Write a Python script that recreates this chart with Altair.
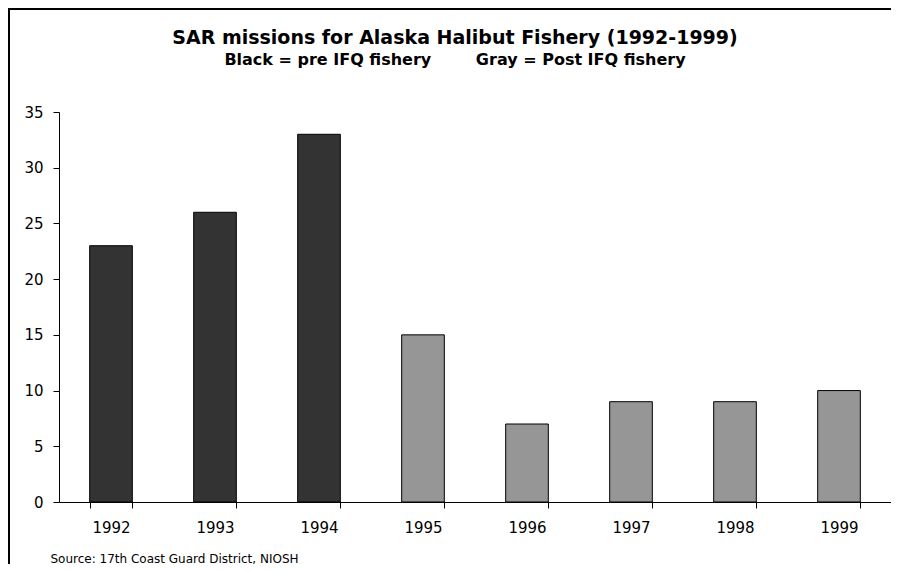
import altair as alt
import pandas as pd

years = ["1992", "1993", "1994", "1995", "1996", "1997", "1998", "1999"]
missions = [23, 26, 33, 15, 7, 9, 9, 10]
period = ["pre IFQ", "pre IFQ", "pre IFQ", "post IFQ", "post IFQ", "post IFQ", "post IFQ", "post IFQ"]
period_names = ["pre IFQ", "post IFQ"]
period_colors = ["#333333", "#969696"]
y_ticks = [0, 5, 10, 15, 20, 25, 30, 35]

title_text = "SAR missions for Alaska Halibut Fishery (1992-1999)"
subtitle_text = "Black = pre IFQ fishery" + "\u00a0" * 8 + "Gray = Post IFQ fishery"
source_text = "Source: 17th Coast Guard District, NIOSH"

df = pd.DataFrame({"year": years, "missions": missions, "period": period})

FONT = "DejaVu Sans"

bars = alt.Chart(df).mark_bar(stroke="black", strokeWidth=1).encode(
    x=alt.X(
        "year:N",
        sort=years,
        scale=alt.Scale(paddingInner=0.59, paddingOuter=0.295),
        axis=alt.Axis(
            title=source_text,
            titleFont=FONT,
            titleFontSize=12,
            titleFontWeight="normal",
            titleColor="black",
            titleAnchor="start",
            titleAlign="left",
            titleBaseline="alphabetic",
            titleX=-9,
            titleY=60,
            labelAngle=0,
            labelFont=FONT,
            labelFontSize=15,
            labelColor="black",
            labelPadding=12,
            tickBand="extent",
            tickSize=6,
            tickColor="black",
            domainColor="black",
            grid=False,
        ),
    ),
    y=alt.Y(
        "missions:Q",
        scale=alt.Scale(domain=[0, 35], nice=False),
        axis=alt.Axis(
            title=None,
            values=y_ticks,
            labelFont=FONT,
            labelFontSize=15,
            labelColor="black",
            labelPadding=10,
            tickSize=6,
            tickColor="black",
            domainColor="black",
            grid=False,
        ),
    ),
    color=alt.Color(
        "period:N",
        scale=alt.Scale(domain=period_names, range=period_colors),
        legend=None,
    ),
)

frame_data = alt.Data(values=[{}])
left_frame = alt.Chart(frame_data).mark_rule(color="black", strokeWidth=2).encode(
    x=alt.value(-50), y=alt.value(-103), y2=alt.value(460)
)
top_frame = alt.Chart(frame_data).mark_rule(color="black", strokeWidth=2).encode(
    y=alt.value(-103), x=alt.value(-51), x2=alt.value(840)
)
top_mask = alt.Chart(frame_data).mark_rule(color="white", strokeWidth=2).encode(
    y=alt.value(0), x=alt.value(1), x2=alt.value(832)
)

chart = (
    alt.layer(bars, left_frame, top_frame, top_mask)
    .properties(
        width=832,
        height=390,
        autosize=alt.AutoSizeParams(type="none"),
        padding={"left": 51, "top": 104, "right": 0, "bottom": 62},
        title=alt.TitleParams(
            text=title_text,
            subtitle=subtitle_text,
            font=FONT,
            fontSize=19,
            fontWeight="bold",
            color="black",
            subtitleFont=FONT,
            subtitleFontSize=16,
            subtitleFontWeight="bold",
            subtitleColor="black",
            subtitlePadding=4,
            anchor="middle",
            dx=-20,
            dy=60,
            offset=0,
        ),
    )
    .configure_view(strokeWidth=0)
    .configure_axis(grid=False)
    .configure(background="white")
)

chart.save("out.html", embed_options={"renderer": "svg", "actions": False})
